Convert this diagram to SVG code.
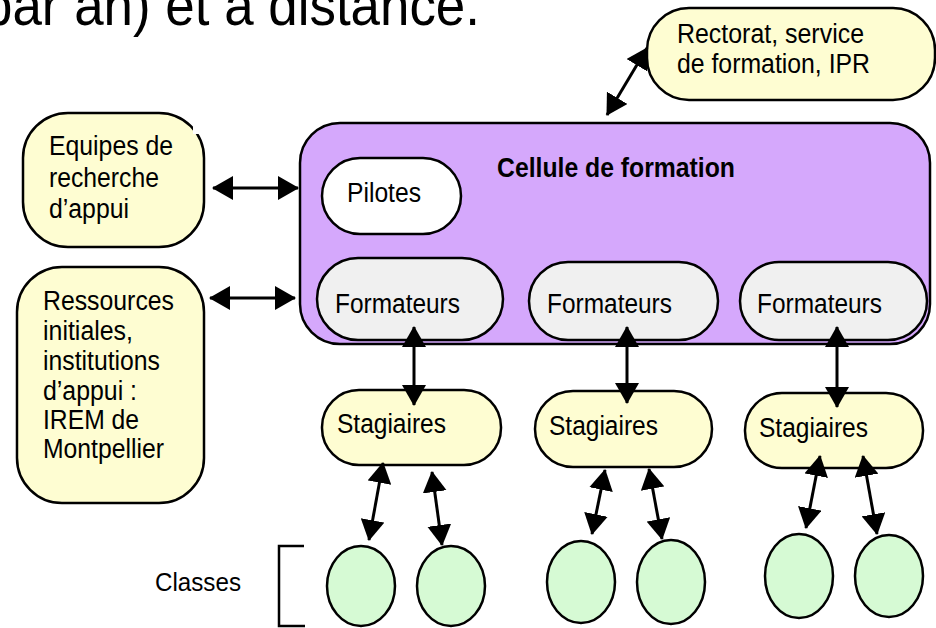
<svg xmlns="http://www.w3.org/2000/svg" width="936" height="628" viewBox="0 0 936 628">
<style>
  .t { font-family: "Liberation Sans", Arial, sans-serif; font-size: 27px; fill: #000; }
  .b { font-weight: bold; }
  .box { stroke: #000; stroke-width: 2.5; }
  .yel { fill: #fefdd2; }
  .pur { fill: #d5a8fc; }
  .gry { fill: #f0f0f0; }
  .wht { fill: #ffffff; }
  .grn { fill: #d6fad4; }
  .arr { stroke: #000; stroke-width: 3; fill: none; marker-start: url(#ah); marker-end: url(#ah); }
</style>
<defs>
  <marker id="ah" markerUnits="userSpaceOnUse" markerWidth="21" markerHeight="24" viewBox="0 0 21 24" refX="20" refY="12" orient="auto-start-reverse">
    <path d="M0,0 L21,12 L0,24 Z" fill="#000"/>
  </marker>
</defs>
<rect width="936" height="628" fill="#fff"/>

<text class="t" x="-17" y="25" style="font-size:57px" textLength="497" lengthAdjust="spacingAndGlyphs">par an) et à distance.</text>

<g id="rectorat">
  <rect class="box yel" x="647" y="8" width="288" height="92" rx="42" ry="42"/>
  <text class="t" x="677" y="43" textLength="187" lengthAdjust="spacingAndGlyphs">Rectorat, service</text>
  <text class="t" x="677" y="73" textLength="193" lengthAdjust="spacingAndGlyphs">de formation, IPR</text>
</g>

<g id="equipes">
  <rect class="box yel" x="23" y="113" width="181" height="134" rx="45" ry="45"/>
  <rect x="193" y="124" width="7" height="10" fill="#fff"/>
  <text class="t" x="49" y="155" textLength="124" lengthAdjust="spacingAndGlyphs">Equipes de</text>
  <text class="t" x="49" y="187" textLength="110" lengthAdjust="spacingAndGlyphs">recherche</text>
  <text class="t" x="49" y="218" textLength="80" lengthAdjust="spacingAndGlyphs">d’appui</text>
</g>

<g id="ressources">
  <rect class="box yel" x="17" y="267" width="187" height="236" rx="45" ry="45"/>
  <text class="t" x="43" y="310" textLength="131" lengthAdjust="spacingAndGlyphs">Ressources</text>
  <text class="t" x="43" y="340" textLength="90" lengthAdjust="spacingAndGlyphs">initiales,</text>
  <text class="t" x="43" y="370" textLength="117" lengthAdjust="spacingAndGlyphs">institutions</text>
  <text class="t" x="43" y="400" textLength="94" lengthAdjust="spacingAndGlyphs">d’appui :</text>
  <text class="t" x="43" y="429" textLength="96" lengthAdjust="spacingAndGlyphs">IREM de</text>
  <text class="t" x="43" y="458" textLength="121" lengthAdjust="spacingAndGlyphs">Montpellier</text>
</g>

<g id="cellule">
  <rect class="box pur" x="300" y="123" width="630" height="221" rx="40" ry="40"/>
  <text class="t b" x="497" y="177" textLength="238" lengthAdjust="spacingAndGlyphs">Cellule de formation</text>
</g>

<g id="pilotes">
  <rect class="box wht" x="322" y="158" width="139" height="76" rx="38" ry="38"/>
  <text class="t" x="347" y="202" textLength="74" lengthAdjust="spacingAndGlyphs">Pilotes</text>
</g>

<g id="formateurs1">
  <rect class="box gry" x="317" y="258" width="186" height="82" rx="41" ry="41"/>
  <text class="t" x="335" y="313" textLength="125" lengthAdjust="spacingAndGlyphs">Formateurs</text>
</g>
<g id="formateurs2">
  <rect class="box gry" x="529" y="262" width="189" height="78" rx="39" ry="39"/>
  <text class="t" x="547" y="313" textLength="125" lengthAdjust="spacingAndGlyphs">Formateurs</text>
</g>
<g id="formateurs3">
  <rect class="box gry" x="740" y="262" width="187" height="78" rx="39" ry="39"/>
  <text class="t" x="757" y="313" textLength="125" lengthAdjust="spacingAndGlyphs">Formateurs</text>
</g>

<g id="stagiaires1">
  <rect class="box yel" x="322" y="390" width="179" height="75" rx="37" ry="37"/>
  <text class="t" x="337" y="433" textLength="109" lengthAdjust="spacingAndGlyphs">Stagiaires</text>
</g>
<g id="stagiaires2">
  <rect class="box yel" x="535" y="391" width="177" height="76" rx="38" ry="38"/>
  <text class="t" x="549" y="435" textLength="109" lengthAdjust="spacingAndGlyphs">Stagiaires</text>
</g>
<g id="stagiaires3">
  <rect class="box yel" x="745" y="393" width="178" height="75" rx="37" ry="37"/>
  <text class="t" x="759" y="437" textLength="109" lengthAdjust="spacingAndGlyphs">Stagiaires</text>
</g>

<g id="classes">
  <path d="M304,546 H279 V626 H305" fill="none" stroke="#000" stroke-width="2.5"/>
  <text class="t" x="155" y="591" style="font-size:26px" textLength="86" lengthAdjust="spacingAndGlyphs">Classes</text>
</g>
<g id="classe1"><ellipse class="box grn" cx="361" cy="586" rx="34" ry="40"/></g>
<g id="classe2"><ellipse class="box grn" cx="451" cy="586" rx="34" ry="40"/></g>
<g id="classe3"><ellipse class="box grn" cx="581" cy="582" rx="34" ry="41"/></g>
<g id="classe4"><ellipse class="box grn" cx="671" cy="582" rx="34" ry="42"/></g>
<g id="classe5"><ellipse class="box grn" cx="799" cy="576" rx="34" ry="42"/></g>
<g id="classe6"><ellipse class="box grn" cx="889" cy="576" rx="34" ry="41"/></g>

<g id="connectors">
  <line class="arr" x1="607" y1="115" x2="647" y2="48"/>
  <line class="arr" x1="213" y1="188" x2="298" y2="188"/>
  <line class="arr" x1="210" y1="298" x2="295" y2="298"/>
  <line class="arr" x1="414" y1="327" x2="414" y2="405"/>
  <line class="arr" x1="627" y1="327" x2="627" y2="403"/>
  <line class="arr" x1="837" y1="327" x2="837" y2="407"/>
  <line class="arr" x1="383" y1="463" x2="369" y2="540"/>
  <line class="arr" x1="432" y1="472" x2="442" y2="545"/>
  <line class="arr" x1="605" y1="470" x2="592" y2="534"/>
  <line class="arr" x1="649" y1="469" x2="662" y2="539"/>
  <line class="arr" x1="820" y1="456" x2="806" y2="528"/>
  <line class="arr" x1="863" y1="456" x2="877" y2="534"/>
</g>
</svg>
